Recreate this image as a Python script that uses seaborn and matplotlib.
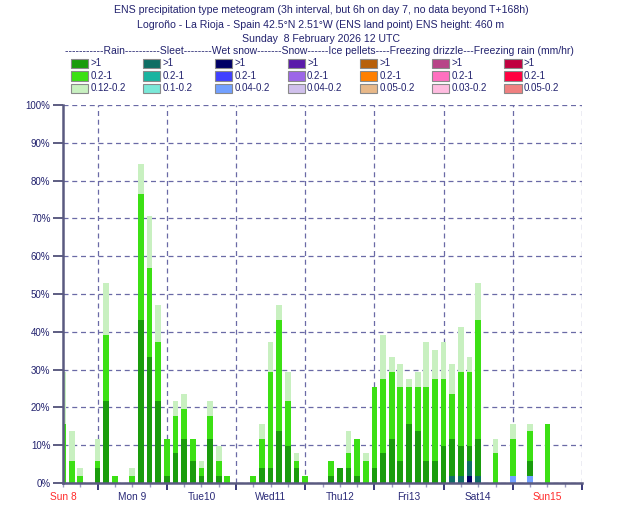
import matplotlib
matplotlib.use("Agg")
import matplotlib.pyplot as plt
import matplotlib.transforms as mtransforms
from matplotlib.patches import Rectangle
import pandas as pd
import seaborn as sns

# forecast steps in hours after Sun 8 12 UTC (3h up to T+144, then 6h)
hours = list(range(0, 145, 3)) + [150, 156, 162, 168]

# ensemble members (out of 51) in each class
rain_hi = [0, 0, 0, 0, 2, 11, 0, 0, 0, 22, 17, 11, 1, 4, 6, 3, 1, 6, 1, 0, 0, 0, 0, 2, 2, 7, 5, 2, 0, 0, 0,
           1, 2, 2, 1, 0, 2, 4, 6, 3, 8, 7, 3, 3, 5, 5, 4, 2, 5, 0, 0, 2, 0]
rain_mid = [8, 3, 1, 0, 1, 9, 1, 0, 1, 17, 12, 8, 5, 5, 4, 3, 1, 3, 2, 1, 0, 0, 1, 4, 13, 15, 6, 1, 1, 0, 0,
            2, 0, 2, 5, 3, 11, 10, 9, 10, 5, 6, 10, 11, 9, 6, 10, 10, 16, 4, 5, 4, 8]
rain_lo = [7, 4, 1, 0, 3, 7, 0, 0, 1, 4, 7, 5, 0, 2, 2, 0, 1, 2, 2, 0, 0, 0, 0, 2, 4, 2, 4, 1, 0, 0, 0,
           0, 0, 3, 0, 1, 0, 6, 2, 3, 1, 2, 6, 4, 5, 4, 6, 2, 5, 2, 2, 1, 0]
sleet_hi = [0] * 45 + [1, 1, 2, 1] + [0] * 4
wet_hi = [0] * 47 + [1] + [0] * 5
wet_lo = [0] * 50 + [1, 1, 0]
n_members = 51

day_labels = ["Sun 8", "Mon 9", "Tue10", "Wed11", "Thu12", "Fri13", "Sat14", "Sun15"]
day_colors = ["#ff2a2a", "#2a2a78", "#2a2a78", "#2a2a78", "#2a2a78", "#2a2a78", "#2a2a78", "#ff2a2a"]

legend_labels = [[">1", "0.2-1", "0.12-0.2"], [">1", "0.2-1", "0.1-0.2"], [">1", "0.2-1", "0.04-0.2"],
                 [">1", "0.2-1", "0.04-0.2"], [">1", "0.2-1", "0.05-0.2"], [">1", "0.2-1", "0.03-0.2"],
                 [">1", "0.2-1", "0.05-0.2"]]
legend_colors = [["#1a9c0c", "#3ce014", "#c8f0c0"], ["#0e6e64", "#1ab4a0", "#7ae8d8"],
                 ["#000066", "#4040ff", "#72a0ff"], ["#5a1aaa", "#9c66e8", "#d0c0ec"],
                 ["#b8600a", "#ff8000", "#e8b888"], ["#b84488", "#ff70c0", "#ffbce0"],
                 ["#c00040", "#ff0040", "#f08080"]]

plt.rcParams["font.family"] = ["Liberation Sans", "DejaVu Sans"]
navy = "#22226e"

df = pd.DataFrame({"hour": hours, "wet_hi": wet_hi, "wet_lo": wet_lo, "sleet_hi": sleet_hi,
                   "rain_hi": rain_hi, "rain_mid": rain_mid, "rain_lo": rain_lo})
# stacked from the bottom: wet snow, sleet, rain
layers = [("wet_hi", legend_colors[2][0]), ("wet_lo", legend_colors[2][2]),
          ("sleet_hi", legend_colors[1][0]), ("rain_hi", legend_colors[0][0]),
          ("rain_mid", legend_colors[0][1]), ("rain_lo", legend_colors[0][2])]
cols = [c for c, _ in layers]
cum = df[cols].cumsum(axis=1) * 100.0 / n_members
cum["hour"] = df["hour"]

fig = plt.figure(figsize=(6.3, 5.25), dpi=100)
ax = fig.add_axes([63 / 630, 42 / 525, 519 / 630, 378 / 525])

# draw the cumulative tops, highest first, so each lower class covers the one above
for col, color in reversed(layers):
    sns.barplot(data=cum, x="hour", y=col, native_scale=True, width=0.66, color=color,
                saturation=1, errorbar=None, linewidth=0, ax=ax)

ax.set_xlim(0, 180)
ax.set_ylim(0, 100)
ax.set_xlabel("")
ax.set_ylabel("")
ax.set_axisbelow(True)

ax.set_xticks(range(12, 181, 24))
ax.set_xticks(range(0, 181, 6), minor=True)
ax.tick_params(axis="x", which="major", length=5, width=1.3, color="#2a2a70", labelbottom=False)
ax.tick_params(axis="x", which="minor", length=3, width=1, color="#9a9ac0")
ax.set_yticks(range(0, 101, 10))
ax.set_yticklabels([f"{v}%" for v in range(0, 101, 10)], fontsize=7, color=navy)
ax.tick_params(axis="y", length=7, width=1.3, color="#505078", pad=2)

ax.grid(True, which="major", ls=(0, (4, 3)), color="#6a6aa6", lw=0.9)
for side in ["top", "right"]:
    ax.spines[side].set_visible(False)
for side in ["left", "bottom"]:
    ax.spines[side].set_color("#5a5a80")
    ax.spines[side].set_linewidth(1.8)

trans = mtransforms.blended_transform_factory(ax.transData, ax.transAxes)
for k, (lab, c) in enumerate(zip(day_labels, day_colors)):
    ax.text(24 * k, -0.037, lab, transform=trans, ha="center", va="center", fontsize=7.3, color=c)

# overlay in pixel units for the title block and legend
lg = fig.add_axes([0, 0, 1, 1], facecolor="none")
lg.set_xlim(0, 630)
lg.set_ylim(525, 0)
lg.axis("off")

titles = ["ENS precipitation type meteogram (3h interval, but 6h on day 7, no data beyond T+168h)",
          "Logroño - La Rioja - Spain 42.5°N 2.51°W (ENS land point) ENS height: 460 m",
          "Sunday  8 February 2026 12 UTC"]
for y, t in zip([10, 24.5, 38.5], titles):
    lg.text(321, y, t, ha="center", va="center", fontsize=7.6, color=navy)

header = ("-----------Rain----------Sleet--------Wet snow-------Snow------Ice pellets"
          "----Freezing drizzle---Freezing rain (mm/hr)")
lg.text(65, 51.5, header, ha="left", va="center", fontsize=7.5, color=navy)

for k in range(7):
    x0 = 70.7 + k * 72.3
    for r in range(3):
        y0 = 58.5 + r * 12.5
        lg.add_patch(Rectangle((x0, y0), 17, 9.5, facecolor=legend_colors[k][r],
                               edgecolor="#8a8a8a", lw=0.8))
        lg.text(x0 + 19.5, y0 + 4.8, legend_labels[k][r], ha="left", va="center",
                fontsize=7, color=navy)

fig.savefig("out.png", dpi=100)
